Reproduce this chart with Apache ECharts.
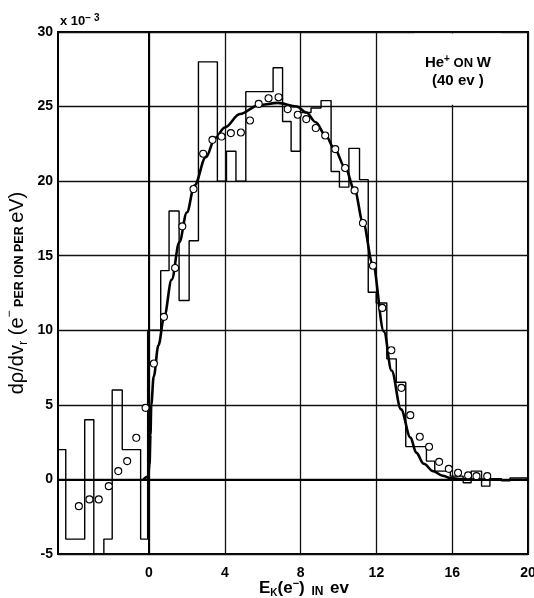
<!DOCTYPE html>
<html>
<head>
<meta charset="utf-8">
<script src="https://cdn.jsdelivr.net/npm/echarts@6/dist/echarts.min.js"></script>
<style>html,body{margin:0;padding:0;background:#fff;}#c{width:534px;height:598px;}</style>
</head>
<body>
<div id="c"></div>
<script>
// x tick labels (eV) and y tick range (x10^-3)
const xTickValues = [0, 4, 8, 12, 16, 20];
const yTickValues = [-5, 0, 5, 10, 15, 20, 25, 30];

// Histogram: bin edges and bin heights
const histEdges = [-4.8, -4.39, -3.39, -2.91, -2.38, -1.94, -1.41, -0.44, -0.07, 0.62, 1.06, 1.59, 2.12, 2.61, 3.61, 4.09, 4.59, 5.11, 6.55, 7.05, 7.5, 7.99, 8.55, 9.08, 9.61, 10.05, 10.55, 11.11, 11.57, 11.99, 12.55, 13.05, 13.55, 14.64, 15.08, 15.9, 16.58, 17.0, 17.55, 17.99, 18.6, 19.05, 20];
const histValues = [2.0, -4.0, 4.0, -6.0, -4.0, 6.0, 2.0, -4.0, 10.0, 14.0, 18.0, 12.0, 16.0, 28.0, 20.0, 22.0, 20.0, 26.0, 27.6, 24.0, 22.0, 24.6, 24.9, 25.4, 20.65, 19.6, 22.2, 20.1, 12.55, 11.83, 8.08, 6.52, 2.2, 1.23, 0.56, 0.22, -0.22, 0.56, -0.45, 0.05, -0.1, 0.1];

// Open circles
const pointX = [-3.70, -3.14, -2.65, -2.12, -1.62, -1.15, -0.67, -0.18, 0.26, 0.79, 1.38, 1.76, 2.35, 2.86, 3.35, 3.83, 4.32, 4.85, 5.33, 5.79, 6.31, 6.84, 7.32, 7.85, 8.30, 8.80, 9.30, 9.83, 10.35, 10.85, 11.29, 11.82, 12.31, 12.79, 13.32, 13.79, 14.29, 14.78, 15.31, 15.82, 16.31, 16.84, 17.28, 17.85];
const pointY = [-1.79, -1.34, -1.34, -0.45, 0.56, 1.23, 2.79, 4.80, 7.77, 10.9, 14.18, 16.97, 19.47, 21.84, 22.77, 22.99, 23.22, 23.26, 24.07, 25.18, 25.56, 25.63, 24.83, 24.45, 24.16, 23.56, 23.06, 22.15, 20.88, 19.38, 17.19, 14.33, 11.50, 8.66, 6.14, 4.31, 2.86, 2.19, 1.18, 0.71, 0.45, 0.27, 0.22, 0.22];

// Smooth curve
const curveX = [-0.3, -0.05, 0.03, 0.08, 0.12, 0.25, 0.5, 0.8, 1.2, 1.6, 2.0, 2.4, 3.0, 3.5, 4.0, 4.8, 5.8, 6.8, 7.8, 8.3, 8.8, 9.3, 9.8, 10.35, 10.85, 11.3, 11.8, 12.4, 12.8, 13.3, 13.8, 14.1, 14.5, 15.0, 15.5, 15.9, 16.5, 17.0, 18.0];
const curveY = [0, 0.2, 1.0, 3.0, 5.0, 6.9, 9.0, 10.9, 13.4, 15.9, 17.9, 19.7, 21.6, 22.9, 23.6, 24.5, 25.1, 25.25, 25.0, 24.6, 23.95, 23.1, 22.15, 20.9, 19.4, 17.2, 14.5, 9.9, 7.3, 4.7, 2.8, 1.8, 1.05, 0.55, 0.25, 0.1, 0.03, 0, 0];

const histData = histValues.map((v, i) => [histEdges[i], v]);
histData.push([histEdges[histEdges.length - 1], histValues[histValues.length - 1]]);
const pointData = pointX.map((x, i) => [x, pointY[i]]);
const curveData = curveX.map((x, i) => [x, curveY[i]]);

const FONT = '"Liberation Sans", Arial, sans-serif';
const chart = echarts.init(document.getElementById('c'), null, {renderer: 'canvas'});
chart.setOption({
  backgroundColor: '#fff',
  animation: false,
  grid: {left: 58, right: 6, top: 32, bottom: 44, show: true, borderColor: '#000', borderWidth: 2, backgroundColor: 'transparent', outerBoundsMode: 'none', containLabel: false},
  xAxis: {
    type: 'value', min: -4.8, max: 20,
    axisLine: {show: true, lineStyle: {color: '#000', width: 2}},
    axisTick: {show: false, customValues: xTickValues},
    splitLine: {show: true, lineStyle: {color: '#111', width: 1.3}},
    axisLabel: {customValues: xTickValues, color: '#000', fontFamily: FONT, fontWeight: 'bold', fontSize: 14, margin: 12, hideOverlap: false},
    name: '{a|E}{sub|K}{a|(e}{sup|−}{a|)}{s|  IN  }{a|ev}',
    nameLocation: 'middle', nameGap: 24, nameMoveOverlap: false,
    nameTextStyle: {
      padding: [0, 0, 0, 22],
      rich: {
        a: {fontFamily: FONT, fontSize: 17, fontWeight: 'bold', color: '#000', lineHeight: 20, verticalAlign: 'middle'},
        sub: {fontFamily: FONT, fontSize: 10, fontWeight: 'bold', color: '#000', verticalAlign: 'bottom', lineHeight: 20},
        sup: {fontFamily: FONT, fontSize: 11, fontWeight: 'bold', color: '#000', verticalAlign: 'top', lineHeight: 20},
        s: {fontFamily: FONT, fontSize: 12, fontWeight: 'bold', color: '#000', lineHeight: 14, verticalAlign: 'bottom'}
      }
    }
  },
  yAxis: {
    type: 'value', min: -5, max: 30, interval: 5,
    axisLine: {show: true, lineStyle: {color: '#000', width: 2}},
    axisTick: {show: false},
    splitLine: {show: true, lineStyle: {color: '#111', width: 1.3}},
    axisLabel: {color: '#000', fontFamily: FONT, fontWeight: 'bold', fontSize: 14, margin: 5},
    name: '{a|dρ/dv}{sub|r}{a| (e}{sup|−}{s| PER ION PER }{a|eV)}',
    nameLocation: 'middle', nameGap: 28, nameRotate: 90, nameMoveOverlap: false,
    nameTextStyle: {
      padding: [0, 0, 0, 0],
      rich: {
        a: {fontFamily: FONT, fontSize: 20, color: '#000', lineHeight: 26},
        sub: {fontFamily: FONT, fontSize: 13, color: '#000', verticalAlign: 'bottom', lineHeight: 26},
        sup: {fontFamily: FONT, fontSize: 12, color: '#000', verticalAlign: 'top', lineHeight: 26},
        s: {fontFamily: FONT, fontSize: 12.5, fontWeight: 'bold', color: '#000', lineHeight: 13, verticalAlign: 'bottom', padding: [0, 0, 4, 0]}
      }
    }
  },
  graphic: [{
    type: 'text', left: 60, top: 13,
    style: {
      text: '{a|x 10}{sup|− 3}',
      rich: {
        a: {fontFamily: FONT, fontSize: 13, fontWeight: 'bold', fill: '#000', lineHeight: 17},
        sup: {fontFamily: FONT, fontSize: 10, fontWeight: 'bold', fill: '#000', verticalAlign: 'top', lineHeight: 17}
      }
    }
  }],
  series: [
    {
      type: 'line', data: histData, step: 'end', symbol: 'none', z: 2,
      lineStyle: {color: '#000', width: 1.4},
      markArea: {
        silent: true,
        itemStyle: {color: '#fff', opacity: 1},
        label: {
          show: true, position: 'inside', offset: [0, 3],
          formatter: '{a|He}{sup|+}{b| ON }{a|W}\n{a|(40 ev )}',
          rich: {
            a: {fontFamily: FONT, fontSize: 15, fontWeight: 'bold', color: '#000', lineHeight: 18},
            b: {fontFamily: FONT, fontSize: 13, fontWeight: 'bold', color: '#000', lineHeight: 18},
            sup: {fontFamily: FONT, fontSize: 10, fontWeight: 'bold', color: '#000', verticalAlign: 'top', lineHeight: 18}
          }
        },
        data: [[{xAxis: 14.0, yAxis: 25.12}, {xAxis: 18.6, yAxis: 29.9}]]
      }
    },
    {
      type: 'line', data: curveData, smooth: 0.35, smoothMonotone: 'x', symbol: 'none', z: 3,
      lineStyle: {color: '#000', width: 2.6}
    },
    {
      type: 'scatter', data: pointData, symbol: 'circle', symbolSize: 7, z: 4,
      itemStyle: {color: '#fff', borderColor: '#000', borderWidth: 1.1, opacity: 1}
    }
  ]
});
</script>
</body>
</html>
